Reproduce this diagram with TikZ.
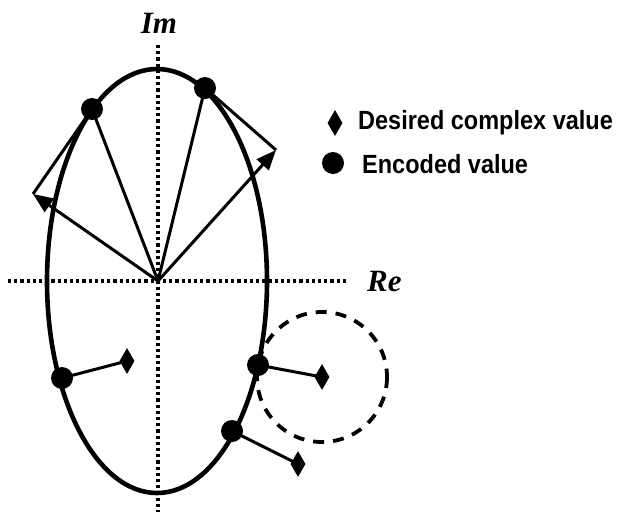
\documentclass[tikz,border=0pt]{standalone}
\usepackage{fontspec}
\setmainfont{Liberation Serif}
\setsansfont{Liberation Sans}
\usetikzlibrary{shapes.geometric,arrows.meta}
\begin{document}
\begin{tikzpicture}[x=1pt,y=-1pt,
  axis/.style={line width=3.2pt,dash pattern=on 3.2pt off 3pt},
  curve/.style={line width=4.6pt},
  vec/.style={line width=3pt},
  enc/.style={circle,fill=black,inner sep=0pt,minimum size=22pt},
  des/.style={diamond,fill=black,inner sep=0pt,minimum width=15pt,minimum height=26pt},
  lbl/.style={font=\fontsize{31}{33}\selectfont\bfseries\itshape},
  leg/.style={font=\fontsize{23.5}{26}\selectfont\sffamily\bfseries,anchor=west,inner sep=0pt}]
\useasboundingbox (0,0) rectangle (618,512);
% axes
\coordinate (o) at (158,281);
\coordinate (xl) at (8,281);
\coordinate (xr) at (348,281);
\coordinate (yt) at (158,45);
\coordinate (yb) at (158,512);
\draw[axis] (xl) -- (xr);
\draw[axis] (yt) -- (yb);
\node[lbl] (im) at (159,23) {Im};
\node[lbl,anchor=west,inner sep=0pt] (re) at (367,281) {Re};
% ellipse
\draw[curve] (157,281) ellipse [x radius=110, y radius=212];
% encoded points
\node[enc] (p1) at (92,109) {};
\node[enc] (p2) at (205,88) {};
\node[enc] (p3) at (62,378) {};
\node[enc] (p4) at (258,365) {};
\node[enc] (p5) at (232,431) {};
% arrow tips
\coordinate (a1) at (33,194);
\coordinate (a2) at (276,150);
\draw[vec] (o) -- (p1.center);
\draw[vec] (o) -- (p2.center);
\draw[vec] (p1.center) -- (a1);
\draw[vec] (p2.center) -- (a2);
\draw[vec,-{Triangle[length=20pt,width=16pt]}] (o) -- (a1);
\draw[vec,-{Triangle[length=20pt,width=16pt]}] (o) -- (a2);
% desired values
\node[des] (d1) at (127,361) {};
\node[des] (d2) at (322,377) {};
\node[des] (d3) at (298,464) {};
\draw[vec] (p3.center) -- (d1.center);
\draw[vec] (p4.center) -- (d2.center);
\draw[vec] (p5.center) -- (d3.center);
% dashed circle
\draw[line width=3.8pt,dash pattern=on 11pt off 9pt] (d2.center) circle [radius=65];
% legend
\node[des] (ld) at (335,123) {};
\node[enc] (lc) at (333,163) {};
\node[leg] (lt1) at (358,123) {\scalebox{1}[1.12]{Desired complex value}};
\node[leg] (lt2) at (362,164) {\scalebox{1}[1.12]{Encoded value}};
\end{tikzpicture}
\end{document}
